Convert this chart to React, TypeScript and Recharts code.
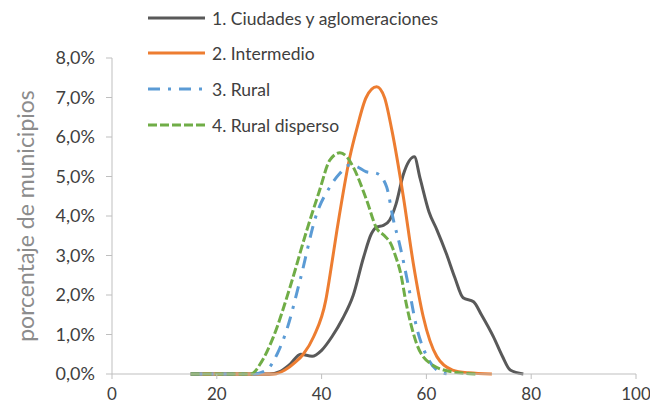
import React from "react";
import { LineChart, Line, XAxis, YAxis } from "recharts";

const seriesNames = [
  "1. Ciudades y aglomeraciones",
  "2. Intermedio",
  "3. Rural",
  "4. Rural disperso",
];

const ciudadesX = [15, 30, 32, 34, 36, 38.2, 40, 42, 44, 46, 48, 49.5, 50.5, 51.8, 53, 54.2, 55.6, 57.7, 58.8, 60.5, 62, 63.8, 65.4, 67, 69, 70.5, 72.8, 74.5, 76, 78.5];
const ciudadesY = [0, 0, 0.06, 0.25, 0.5, 0.45, 0.6, 0.95, 1.4, 1.98, 2.95, 3.55, 3.72, 3.76, 3.9, 4.3, 5.05, 5.5, 4.95, 4.1, 3.65, 3.05, 2.45, 1.93, 1.83, 1.5, 0.94, 0.45, 0.1, 0];

const intermedioX = [15, 31, 33, 35, 36.5, 38.5, 40.8, 41.6, 43, 45.4, 46.7, 48.5, 50.5, 52, 53.4, 55.6, 57.5, 59.4, 62, 65, 68, 72.5];
const intermedioY = [0, 0, 0.1, 0.3, 0.5, 0.95, 1.87, 2.5, 3.7, 5.5, 6.2, 7.0, 7.27, 7.0, 6.18, 4.49, 2.8, 1.45, 0.44, 0.1, 0.03, 0];

const ruralX = [15, 27, 29.5, 31.5, 33.3, 35.9, 39.1, 41.6, 43.5, 45.4, 46.7, 48.5, 50.5, 52.4, 53.7, 55, 56.6, 58.1, 60.1, 62, 64];
const ruralY = [0, 0, 0.1, 0.5, 1.1, 2.38, 4.07, 4.74, 5.08, 5.29, 5.25, 5.12, 5.08, 4.74, 3.9, 3.22, 2.21, 1.2, 0.44, 0.1, 0];

const dispersoX = [15, 26.5, 28.5, 30.8, 34, 37.2, 39.5, 41.6, 43.5, 44.8, 46, 48.6, 50.5, 52, 53.2, 54.2, 55, 56.2, 58.1, 60.7, 65.1, 69.6];
const dispersoY = [0, 0, 0.3, 0.94, 2.21, 3.65, 4.6, 5.42, 5.6, 5.5, 5.25, 4.4, 3.69, 3.5, 3.3, 2.95, 2.6, 1.75, 0.78, 0.27, 0.05, 0];

const xTicks = [0, 20, 40, 60, 80, 100];
const yTicks = [0, 1, 2, 3, 4, 5, 6, 7, 8];

const colors = ["#595959", "#ED7D31", "#5B9BD5", "#70AD47"];
const dashes = [undefined, undefined, "12 8 3 8", "9 3"];

const build = (xs: number[], ys: number[]) => xs.map((x, i) => ({ x, y: ys[i] }));

const allSeries = [
  build(ciudadesX, ciudadesY),
  build(intermedioX, intermedioY),
  build(ruralX, ruralY),
  build(dispersoX, dispersoY),
];

const FONT = "Lato, 'Open Sans', sans-serif";

const fmt = (v: number) => v.toFixed(1).replace(".", ",") + "%";

export default function App() {
  return (
    <div style={{ position: "absolute", left: 0, top: 0, width: 650, height: 410, background: "#fff", fontFamily: FONT }}>
      <LineChart
        width={650}
        height={410}
        margin={{ top: 58, right: 14, bottom: 6, left: 0 }}
      >
        <XAxis
          type="number"
          dataKey="x"
          domain={[0, 100]}
          ticks={xTicks}
          allowDuplicatedCategory={false}
          stroke="#bfbfbf"
          tickSize={5}
          tickMargin={9}
          height={30}
          tick={{ fill: "#404040", fontSize: 17, fontFamily: FONT }}
        />
        <YAxis
          type="number"
          dataKey="y"
          domain={[0, 8]}
          ticks={yTicks}
          width={112}
          tickFormatter={fmt}
          stroke="#bfbfbf"
          tickSize={6}
          tickMargin={11}
          tick={{ fill: "#404040", fontSize: 18, fontFamily: FONT }}
          label={{
            value: "porcentaje de municipios",
            angle: -90,
            position: "insideLeft",
            offset: 26,
            style: { textAnchor: "middle", fill: "#8c8c8c", fontSize: 23, fontFamily: FONT },
          }}
        />
        {allSeries.map((d, i) => (
          <Line
            key={seriesNames[i]}
            data={d}
            dataKey="y"
            name={seriesNames[i]}
            type="monotone"
            stroke={colors[i]}
            strokeWidth={3}
            strokeDasharray={dashes[i]}
            dot={false}
            activeDot={false}
            isAnimationActive={false}
          />
        ))}
      </LineChart>
      <div style={{ position: "absolute", left: 148, top: 0 }}>
        {seriesNames.map((n, i) => (
          <div key={n} style={{ position: "absolute", left: 0, top: [18, 53, 89, 125][i] - 12, height: 24, display: "flex", alignItems: "center", whiteSpace: "nowrap" }}>
            <svg width={58} height={10} style={{ display: "block" }}>
              <line x1={0} y1={5} x2={57} y2={5} stroke={colors[i]} strokeWidth={3} strokeDasharray={dashes[i]} />
            </svg>
            <span style={{ marginLeft: 6, fontSize: 17.5, color: "#404040", fontFamily: FONT }}>{n}</span>
          </div>
        ))}
      </div>
    </div>
  );
}
